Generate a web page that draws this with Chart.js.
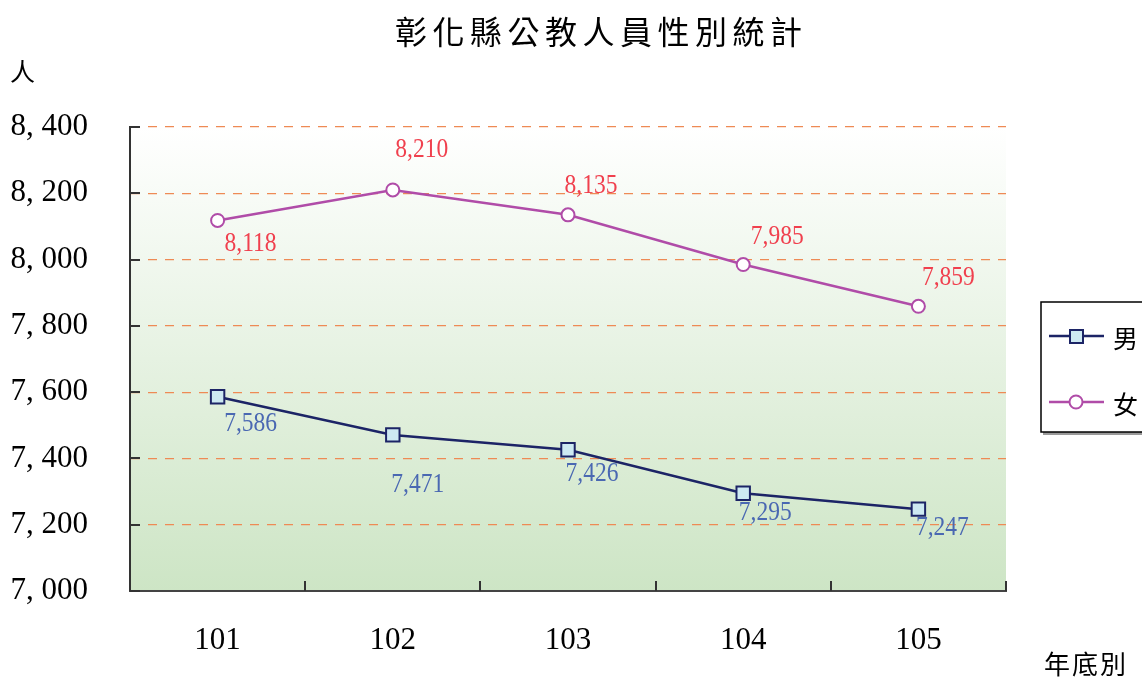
<!DOCTYPE html>
<html>
<head>
<meta charset="utf-8">
<script src="https://cdn.jsdelivr.net/npm/chart.js@4.4.1/dist/chart.umd.min.js"></script>
<style>
  html, body { margin: 0; padding: 0; background: #fff; }
  #wrap { width: 1142px; height: 678px; }
</style>
</head>
<body>
<div id="wrap"><canvas id="chart" width="1142" height="678"></canvas></div>
<script>
const years = ['101', '102', '103', '104', '105'];
const maleCounts = [7586, 7471, 7426, 7295, 7247];
const femaleCounts = [8118, 8210, 8135, 7985, 7859];
const seriesNames = ['男', '女'];

// where each value label sits relative to its point
const maleLabelOffsets = [[33, 27], [25, 50], [24, 24], [22, 19], [24, 19]];
const femaleLabelOffsets = [[33, 23], [29, -40], [23, -29], [34, -28], [30, -29]];

const MALE = '#1c2466';
const FEMALE = '#b04ca8';
const SERIF = '"Liberation Serif", "DejaVu Serif", serif';
const CJK = '"Noto Sans CJK TC", "Noto Sans CJK SC", sans-serif';

const fmt = n => n.toLocaleString('en-US');

function drawCondensed(ctx, text, x, y, sx) {
  ctx.save();
  ctx.translate(x, y);
  ctx.scale(sx, 1);
  ctx.fillText(text, 0, 0);
  ctx.restore();
}

function drawSpaced(ctx, text, x, y, step) {
  [...text].forEach((ch, i) => ctx.fillText(ch, x + i * step, y));
}

const decor = {
  id: 'decor',
  beforeDraw(chart) {
    const { ctx, chartArea: a } = chart;
    const g = ctx.createLinearGradient(0, a.top, 0, a.bottom);
    g.addColorStop(0, '#ffffff');
    g.addColorStop(1, '#cde5c5');
    ctx.save();
    ctx.fillStyle = g;
    ctx.fillRect(a.left, a.top, a.right - a.left, a.bottom - a.top);
    ctx.restore();
  },
  afterDraw(chart) {
    const { ctx, chartArea: a } = chart;
    const ys = chart.scales.y;
    ctx.save();

    // inward tick marks
    ctx.strokeStyle = '#333';
    ctx.lineWidth = 2;
    ys.ticks.forEach(t => {
      const y = Math.round(ys.getPixelForValue(t.value));
      ctx.beginPath(); ctx.moveTo(a.left, y); ctx.lineTo(a.left + 10, y); ctx.stroke();
    });
    const n = years.length, w = (a.right - a.left) / n;
    for (let i = 0; i <= n; i++) {
      const x = Math.round(a.left + i * w);
      ctx.beginPath(); ctx.moveTo(x, a.bottom); ctx.lineTo(x, a.bottom - 10); ctx.stroke();
    }

    // value labels
    ctx.font = '28px ' + SERIF;
    ctx.textAlign = 'center';
    ctx.textBaseline = 'middle';
    const sets = [[maleCounts, maleLabelOffsets, '#4a68b2'], [femaleCounts, femaleLabelOffsets, '#f0404e']];
    sets.forEach(([vals, offs, color], di) => {
      ctx.fillStyle = color;
      chart.getDatasetMeta(di).data.forEach((pt, i) => {
        drawCondensed(ctx, fmt(vals[i]), pt.x + offs[i][0], pt.y + offs[i][1], 0.84);
      });
    });

    // title and axis captions
    ctx.fillStyle = '#000';
    ctx.textAlign = 'left';
    ctx.font = '32px ' + CJK;
    drawSpaced(ctx, '彰化縣公教人員性別統計', 395, 32, 37.5);
    ctx.font = '25px ' + CJK;
    ctx.fillText('人', 10, 71);
    ctx.font = '26px ' + CJK;
    drawSpaced(ctx, '年底別', 1044, 664, 28);

    // legend
    ctx.fillStyle = '#999';
    ctx.fillRect(1043, 432, 100, 3);
    ctx.fillStyle = '#fff';
    ctx.fillRect(1041, 302, 110, 130);
    ctx.strokeStyle = '#000';
    ctx.lineWidth = 1.5;
    ctx.strokeRect(1041, 302, 110, 130);
    chart.data.datasets.forEach((ds, i) => {
      const y = 336 + i * 66;
      ctx.strokeStyle = ds.borderColor;
      ctx.lineWidth = ds.borderWidth;
      ctx.beginPath(); ctx.moveTo(1049, y); ctx.lineTo(1104, y); ctx.stroke();
      ctx.fillStyle = ds.pointBackgroundColor;
      ctx.lineWidth = 2;
      if (ds.pointStyle === 'rect') {
        ctx.fillRect(1070, y - 6, 13, 13);
        ctx.strokeRect(1070, y - 6, 13, 13);
      } else {
        ctx.beginPath(); ctx.arc(1076, y, 6.5, 0, Math.PI * 2); ctx.fill(); ctx.stroke();
      }
      ctx.fillStyle = '#000';
      ctx.font = '25px ' + CJK;
      ctx.textBaseline = 'middle';
      ctx.fillText(ds.label, 1113, y + 2);
    });
    ctx.restore();
  }
};

new Chart(document.getElementById('chart'), {
  type: 'line',
  data: {
    labels: years,
    datasets: [
      {
        label: seriesNames[0],
        data: maleCounts,
        borderColor: MALE,
        borderWidth: 2.5,
        pointStyle: 'rect',
        pointRadius: 9.5,
        pointBorderWidth: 2,
        pointBackgroundColor: '#cde9f2',
        pointBorderColor: MALE,
        tension: 0
      },
      {
        label: seriesNames[1],
        data: femaleCounts,
        borderColor: FEMALE,
        borderWidth: 2.5,
        pointStyle: 'circle',
        pointRadius: 6.5,
        pointBorderWidth: 2,
        pointBackgroundColor: '#ffffff',
        pointBorderColor: FEMALE,
        tension: 0
      }
    ]
  },
  options: {
    responsive: false,
    animation: false,
    devicePixelRatio: 1,
    layout: { padding: { left: 0, right: 136, top: 127, bottom: 0 } },
    plugins: {
      legend: { display: false },
      tooltip: { enabled: false },
      title: { display: false }
    },
    scales: {
      x: {
        type: 'category',
        offset: true,
        grid: { display: false, drawTicks: false },
        border: { display: true, color: '#444', width: 2 },
        ticks: { color: '#000', font: { family: SERIF, size: 31 }, padding: 31 },
        afterFit(s) { s.height = 87; }
      },
      y: {
        min: 7000,
        max: 8400,
        grid: { color: '#ee8a55', lineWidth: 1.2, drawTicks: false },
        border: { display: true, color: '#333', width: 2, dash: [9, 8] },
        ticks: {
          stepSize: 200,
          color: '#000',
          padding: 42,
          font: { family: SERIF, size: 31 },
          callback: v => fmt(v).replace(',', ', ')
        },
        afterFit(s) { s.width = 130; }
      }
    }
  },
  plugins: [decor]
});
</script>
</body>
</html>
